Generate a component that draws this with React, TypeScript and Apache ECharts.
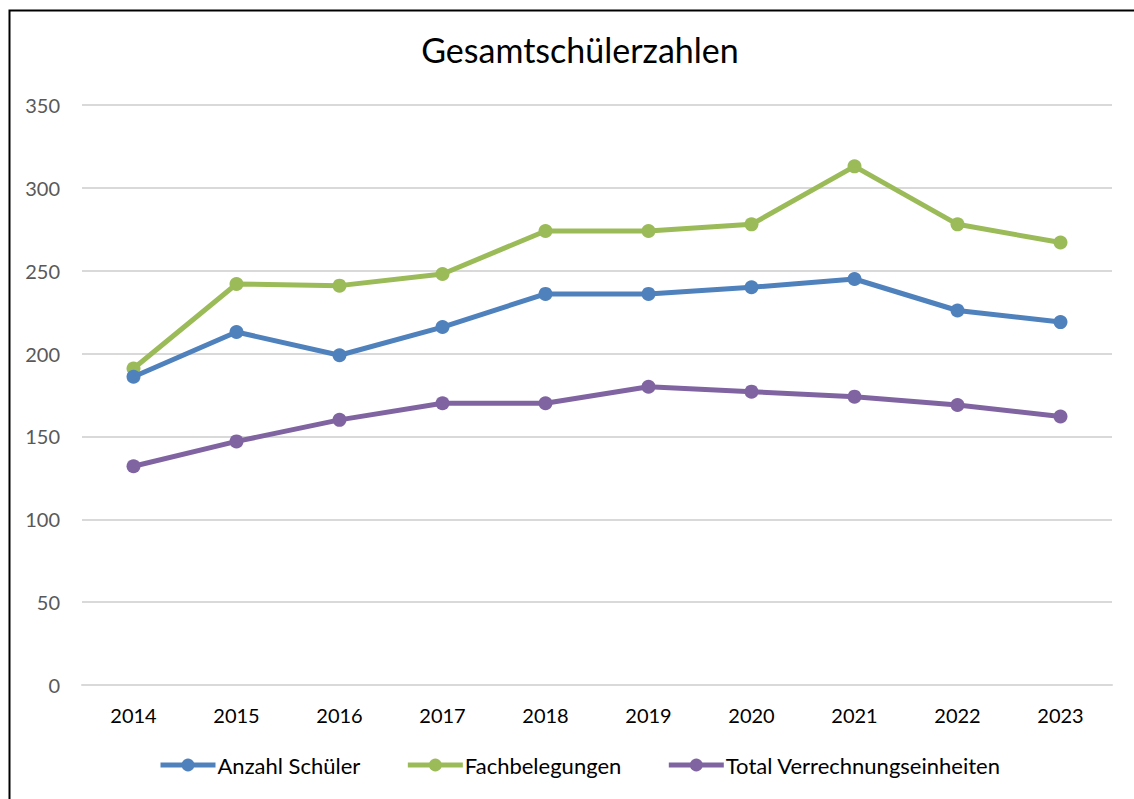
import React, { useEffect, useRef } from "react";
import * as echarts from "echarts";

const years = ["2014", "2015", "2016", "2017", "2018", "2019", "2020", "2021", "2022", "2023"];
const anzahlSchueler = [186, 213, 199, 216, 236, 236, 240, 245, 226, 219];
const fachbelegungen = [191, 242, 241, 248, 274, 274, 278, 313, 278, 267];
const totalVerrechnung = [132, 147, 160, 170, 170, 180, 177, 174, 169, 162];
const seriesNames = ["Anzahl Schüler", "Fachbelegungen", "Total Verrechnungseinheiten"];
const colors = ["#4F81BD", "#9BBB59", "#8064A2"];

const FONT = "'Gill Sans MT', 'Gill Sans', Lato, 'Open Sans', sans-serif";

export default function App() {
  const ref = useRef<HTMLDivElement>(null);
  useEffect(() => {
    if (!ref.current) return;
    const chart = echarts.init(ref.current, undefined, { renderer: "svg" });
    const data = [anzahlSchueler, fachbelegungen, totalVerrechnung];
    chart.setOption({
      animation: false,
      backgroundColor: "#fff",
      textStyle: { fontFamily: FONT },
      title: {
        text: "Gesamtschülerzahlen",
        left: 575,
        top: 27,
        textAlign: "center",
        textStyle: { fontFamily: FONT, fontSize: 34, fontWeight: "normal", color: "#000" },
      },
      graphic: [
        {
          type: "rect",
          left: 7,
          top: 8,
          shape: { width: 1150, height: 820 },
          style: { fill: "none", stroke: "#000", lineWidth: 2 },
          silent: true,
        },
      ],
      grid: { left: 82, right: 22, top: 105, bottom: 114, containLabel: false },
      legend: {
        bottom: 18,
        left: 153,
        itemWidth: 55,
        itemHeight: 16,
        itemGap: 45,
        lineStyle: { width: 5 },
        textStyle: { fontFamily: FONT, fontSize: 22, color: "#000", padding: [0, 0, 0, -3] },
        data: seriesNames,
      },
      xAxis: {
        type: "category",
        data: years,
        boundaryGap: true,
        axisLine: { show: true, lineStyle: { color: "#d9d9d9", width: 2 } },
        axisTick: { show: false },
        axisLabel: { fontFamily: FONT, fontSize: 20, color: "#000", margin: 20 },
        splitLine: { show: false },
      },
      yAxis: {
        type: "value",
        min: 0,
        max: 350,
        interval: 50,
        axisLine: { show: false },
        axisTick: { show: false },
        axisLabel: { fontFamily: FONT, fontSize: 20, color: "#595959", margin: 22 },
        splitLine: { lineStyle: { color: "#d9d9d9", width: 2 } },
      },
      series: seriesNames.map((name, i) => ({
        name,
        type: "line",
        data: data[i],
        symbol: "circle",
        symbolSize: 14,
        lineStyle: { width: 5, color: colors[i] },
        itemStyle: { color: colors[i] },
        z: 3 - i,
      })),
    });
    return () => chart.dispose();
  }, []);
  return (
    <div
      ref={ref}
      style={{ position: "absolute", left: 0, top: 0, width: 1134, height: 799 }}
    />
  );
}
